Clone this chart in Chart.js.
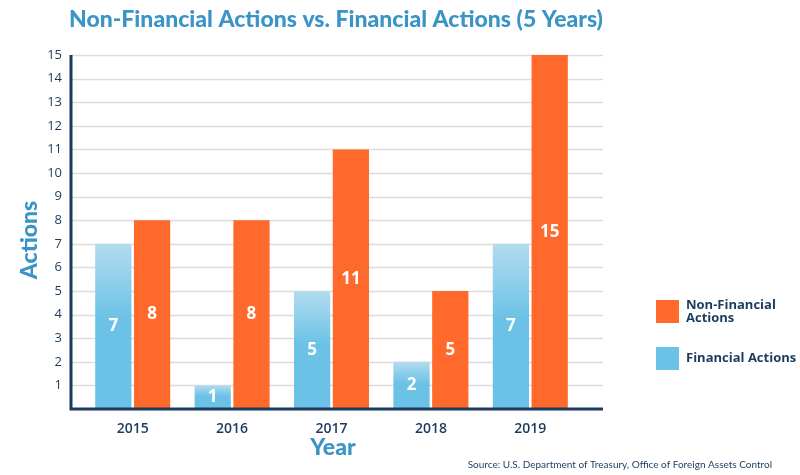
<!DOCTYPE html>
<html>
<head>
<meta charset="utf-8">
<script src="https://cdn.jsdelivr.net/npm/chart.js@4.4.1/dist/chart.umd.min.js"></script>
<style>
  html, body { margin: 0; padding: 0; background: #fff; }
  #wrap { width: 800px; height: 475px; position: relative; }
</style>
</head>
<body>
<div id="wrap"><canvas id="chart" width="800" height="475"></canvas></div>
<script>
// data
const years = ['2015', '2016', '2017', '2018', '2019'];
const financial = [7, 1, 5, 2, 7];
const nonFinancial = [8, 8, 11, 5, 15];
const yTicks = [1, 2, 3, 4, 5, 6, 7, 8, 9, 10, 11, 12, 13, 14, 15];

const navy = '#1b3b5e';
const titleBlue = '#3b94c6';
const orange = '#ff6a2c';
const lightBlue = '#6cc2e6';

// blue bars fade lighter toward the top
function blueGradient(ctx) {
    const chart = ctx.chart;
    const area = chart.chartArea;
    const y = chart.scales.y;
    if (!area || !y || ctx.raw === undefined) return lightBlue;
    const top = y.getPixelForValue(ctx.raw);
    const g = chart.ctx.createLinearGradient(0, top, 0, area.bottom);
    g.addColorStop(0, '#b3dcef');
    g.addColorStop(0.45, lightBlue);
    g.addColorStop(1, lightBlue);
    return g;
}

// grid, axis lines, titles, value labels and legend
const decor = {
    id: 'decor',
    beforeDatasetsDraw(chart) {
        const c = chart.ctx, y = chart.scales.y;
        const x0 = 71, x1 = 603;
        c.save();
        c.strokeStyle = '#dcdcdc';
        c.lineWidth = 1.5;
        yTicks.forEach(v => {
            const py = Math.round(y.getPixelForValue(v)) + 0.5;
            c.beginPath(); c.moveTo(x0, py); c.lineTo(x1, py); c.stroke();
        });
        c.restore();
    },
    afterDatasetsDraw(chart) {
        const c = chart.ctx, y = chart.scales.y;
        const x0 = 71, x1 = 603;
        const bottom = y.getPixelForValue(0);
        const top = y.getPixelForValue(15);
        c.save();
        c.strokeStyle = navy;
        c.lineWidth = 3;
        c.beginPath();
        c.moveTo(x0, top); c.lineTo(x0, bottom); c.lineTo(x1, bottom);
        c.stroke();

        // values inside bars
        c.fillStyle = '#fff';
        c.font = 'bold 17px "Open Sans"';
        c.textAlign = 'center';
        c.textBaseline = 'middle';
        chart.data.datasets.forEach((ds, i) => {
            chart.getDatasetMeta(i).data.forEach((bar, j) => {
                c.fillText(ds.data[j], bar.x, (bar.y + bar.base) / 2);
            });
        });

        // title
        c.fillStyle = titleBlue;
        c.font = '900 23px Lato';
        c.textBaseline = 'alphabetic';
        c.fillText('Non-Financial Actions vs. Financial Actions (5 Years)', 336, 27);

        // axis titles
        c.font = '900 23px Lato';
        c.fillText('Year', 333, 455);
        c.save();
        c.translate(30, 240);
        c.rotate(-Math.PI / 2);
        c.textBaseline = 'middle';
        c.fillText('Actions', 0, 0);
        c.restore();

        // source
        c.fillStyle = navy;
        c.font = '10px Lato';
        c.textAlign = 'right';
        c.fillText('Source: U.S. Department of Treasury, Office of Foreign Assets Control', 772, 468);

        // legend
        const legend = [
            { lines: ['Non-Financial', 'Actions'], color: orange, top: 300 },
            { lines: ['Financial Actions'], color: lightBlue, top: 347 }
        ];
        c.textAlign = 'left';
        c.font = 'bold 13px "Open Sans"';
        legend.forEach(item => {
            c.fillStyle = item.color;
            c.fillRect(656, item.top, 23, 23);
            c.fillStyle = navy;
            c.textBaseline = 'middle';
            const h = 13;
            const start = item.top + 11.5 - (item.lines.length - 1) * h / 2;
            item.lines.forEach((ln, k) => c.fillText(ln, 686, start + k * h));
        });
        c.restore();
    }
};

new Chart(document.getElementById('chart'), {
    type: 'bar',
    data: {
        labels: years,
        datasets: [
            { label: 'Financial Actions', data: financial, backgroundColor: blueGradient,
              barPercentage: 0.935, categoryPercentage: 0.78 },
            { label: 'Non-Financial Actions', data: nonFinancial, backgroundColor: orange,
              barPercentage: 0.935, categoryPercentage: 0.78 }
        ]
    },
    options: {
        responsive: false,
        animation: false,
        layout: { padding: { left: 23, right: 220, top: 55, bottom: 0 } },
        plugins: { legend: { display: false }, tooltip: { enabled: false } },
        scales: {
            x: {
                grid: { display: false },
                border: { display: false },
                ticks: { color: navy, font: { family: 'Open Sans', size: 14, weight: '600' }, padding: 4 },
                afterFit(s) { s.height = 66; }
            },
            y: {
                min: 0, max: 15,
                grid: { display: false, drawTicks: false },
                border: { display: false },
                ticks: {
                    stepSize: 1, padding: 21, color: navy,
                    font: { family: 'Open Sans', size: 13 },
                    callback: v => (v === 0 ? '' : v)
                },
                afterFit(s) { s.width = 60; }
            }
        }
    },
    plugins: [decor]
});
</script>
</body>
</html>
